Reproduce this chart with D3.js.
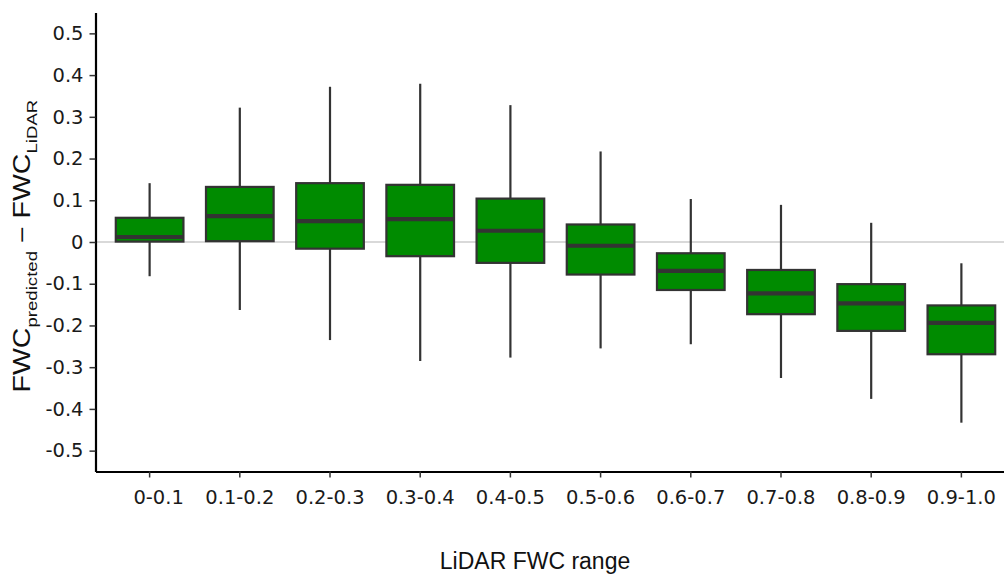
<!DOCTYPE html>
<html><head><meta charset="utf-8">
<script src="https://cdn.jsdelivr.net/npm/d3@7"></script>
<style>body{margin:0;background:#fff;overflow:hidden}</style>
</head><body>
<svg id="chart" width="1004" height="574"></svg>
<script>
const categories = ["0-0.1","0.1-0.2","0.2-0.3","0.3-0.4","0.4-0.5","0.5-0.6","0.6-0.7","0.7-0.8","0.8-0.9","0.9-1.0"];
const whiskerLow  = [-0.082,-0.163,-0.235,-0.285,-0.277,-0.255,-0.245,-0.326,-0.376,-0.433];
const q1          = [ 0.001, 0.002,-0.016,-0.034,-0.050,-0.078,-0.115,-0.173,-0.213,-0.269];
const median      = [ 0.012, 0.062, 0.050, 0.055, 0.027,-0.009,-0.069,-0.123,-0.147,-0.194];
const q3          = [ 0.058, 0.132, 0.141, 0.137, 0.104, 0.042,-0.027,-0.067,-0.101,-0.152];
const whiskerHigh = [ 0.141, 0.322, 0.372, 0.379, 0.328, 0.217, 0.103, 0.089, 0.046,-0.051];
const yTickValues = [-0.5,-0.4,-0.3,-0.2,-0.1,0,0.1,0.2,0.3,0.4,0.5];
const yTickLabels = ["-0.5","-0.4","-0.3","-0.2","-0.1","0","0.1","0.2","0.3","0.4","0.5"];
const xTitle = "LiDAR FWC range";

const svg = d3.select("#chart");
const mLeft = 95.5, mBottom = 471.5, mTop = 12.5;

const x = d3.scaleBand().domain(categories).range([mLeft, 1015.5]).paddingInner(0).paddingOuter(0.1);
const y = d3.scaleLinear().domain([-0.55, 0.55]).range([mBottom, mTop]);

const data = categories.map((c, i) => ({c, lo: whiskerLow[i], q1: q1[i], med: median[i], q3: q3[i], hi: whiskerHigh[i]}));

// zero reference line
svg.append("line")
  .attr("x1", mLeft).attr("x2", 1004)
  .attr("y1", y(0)).attr("y2", y(0))
  .attr("stroke", "#d9d9d9").attr("stroke-width", 2);

const bw = x.bandwidth() * 0.75;
const g = svg.append("g").selectAll("g").data(data).join("g")
  .attr("transform", d => `translate(${x(d.c) + x.bandwidth()/2},0)`);

g.append("line").attr("x1", 0).attr("x2", 0)
  .attr("y1", d => y(d.hi)).attr("y2", d => y(d.lo))
  .attr("stroke", "#333").attr("stroke-width", 2.2);
g.append("rect")
  .attr("x", -bw/2).attr("width", bw)
  .attr("y", d => y(d.q3)).attr("height", d => y(d.q1) - y(d.q3))
  .attr("fill", "#008B00").attr("stroke", "#333").attr("stroke-width", 2.2);
g.append("line").attr("x1", -bw/2).attr("x2", bw/2)
  .attr("y1", d => y(d.med)).attr("y2", d => y(d.med))
  .attr("stroke", "#333").attr("stroke-width", 4.2);

// axes
const yAxis = svg.append("g").attr("transform", `translate(${mLeft},0)`)
  .call(d3.axisLeft(y).tickValues(yTickValues).tickFormat((d, i) => yTickLabels[i]).tickSize(6).tickSizeOuter(0).tickPadding(6));
yAxis.select(".domain").attr("stroke", "#000").attr("stroke-width", 2.2);
yAxis.selectAll(".tick line").attr("stroke", "#333").attr("stroke-width", 1.5);
yAxis.selectAll(".tick text").attr("font-family", "DejaVu Sans, Verdana, sans-serif").attr("font-size", 19.5).attr("fill", "#1a1a1a");

const xAxis = svg.append("g").attr("transform", `translate(0,${mBottom})`)
  .call(d3.axisBottom(x).tickSize(6).tickSizeOuter(0).tickPadding(13));
xAxis.select(".domain").attr("stroke", "#000").attr("stroke-width", 2.2);
xAxis.selectAll(".tick line").attr("stroke", "#333").attr("stroke-width", 1.5);
xAxis.selectAll(".tick text").attr("font-family", "DejaVu Sans, Verdana, sans-serif").attr("font-size", 19.5).attr("fill", "#1a1a1a")
  .attr("dx", (d, i) => i === 0 ? 9 : 0);

// x title
svg.append("text").attr("x", 535).attr("y", 569).attr("text-anchor", "middle")
  .attr("font-family", "Liberation Sans, Arial, sans-serif").attr("font-size", 23).attr("fill", "#111")
  .text(xTitle);

// y title
const yt = svg.append("text")
  .attr("font-family", "Liberation Sans, Arial, sans-serif").attr("font-size", 23).attr("fill", "#111");
yt.append("tspan").text("FWC");
yt.append("tspan").attr("font-size", 15).attr("dy", 7).text("predicted");
yt.append("tspan").attr("dy", -7).text(" \u2212 FWC");
yt.append("tspan").attr("font-size", 15).attr("dy", 7).text("LiDAR");
const len = yt.node().getComputedTextLength();
const target = 293;
const sx = target / len;
yt.attr("transform", `translate(30,${246 + target/2}) rotate(-90) scale(${sx},1)`);
</script>
</body></html>
